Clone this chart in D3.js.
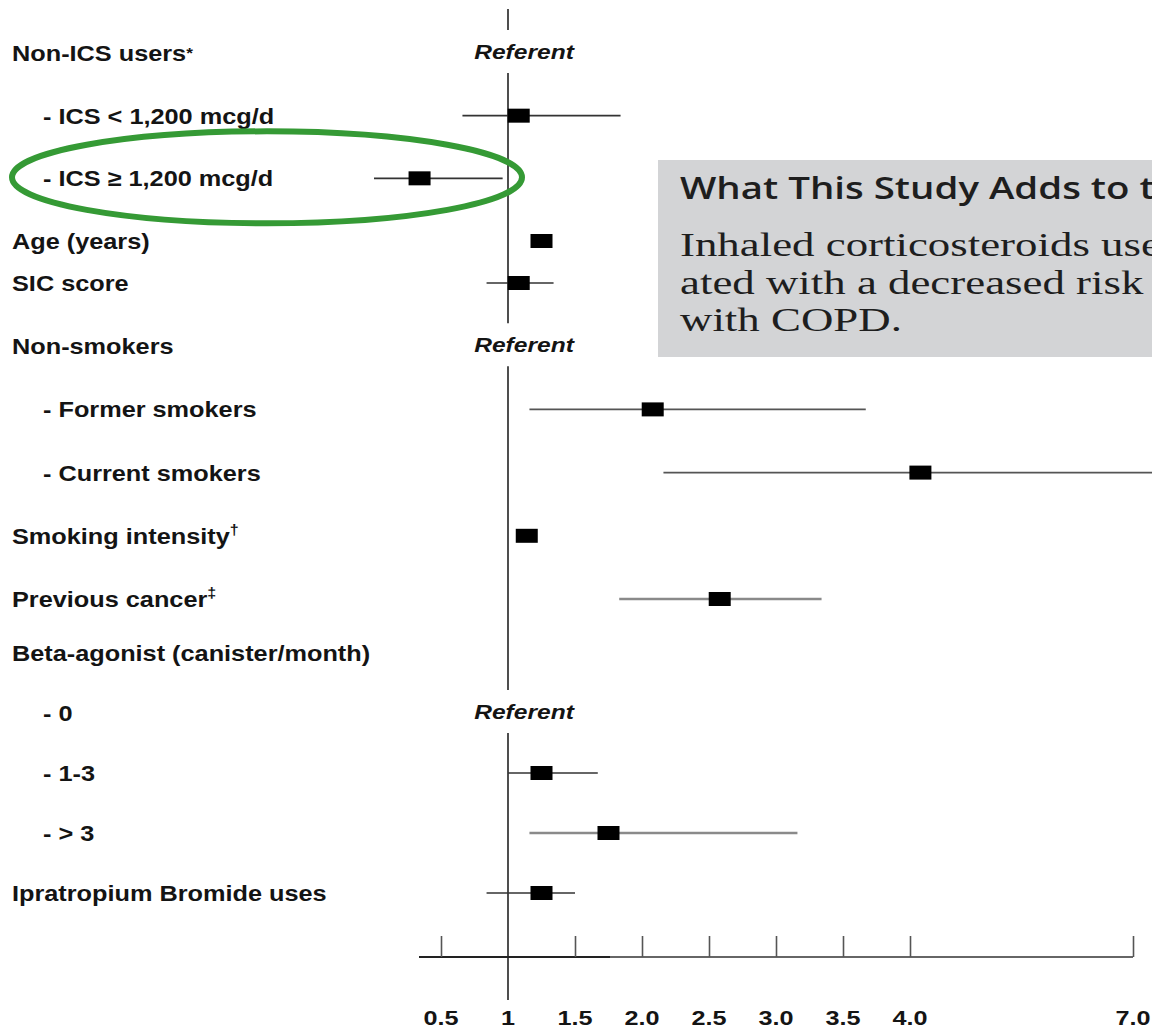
<!DOCTYPE html>
<html>
<head>
<meta charset="utf-8">
<script src="https://cdn.jsdelivr.net/npm/d3@7"></script>
<style>
  html, body { margin: 0; padding: 0; background: #ffffff; }
  svg { display: block; }
</style>
</head>
<body>
<div id="chart"></div>
<script>
// Forest plot: adjusted hazard ratios (with 95% CI) for lung cancer among COPD patients.

const rowLabels = [
  "Non-ICS users*",
  "- ICS < 1,200 mcg/d",
  "- ICS \u2265 1,200 mcg/d",
  "Age (years)",
  "SIC score",
  "Non-smokers",
  "- Former smokers",
  "- Current smokers",
  "Smoking intensity\u2020",
  "Previous cancer\u2021",
  "Beta-agonist (canister/month)",
  "- 0",
  "- 1-3",
  "- > 3",
  "Ipratropium Bromide uses"
];

// Point estimates; null where the row is a header or the referent category
const estimate = [null, 1.08, 0.42, 1.25, 1.08, null, 2.08, 4.14, 1.14, 2.58, null, null, 1.25, 1.75, 1.25];
const ciLower  = [null, 0.66, 0.25, null, 0.84, null, 1.16, 2.16, null, 1.83, null, null, 1.00, 1.16, 0.84];
const ciUpper  = [null, 1.84, 0.96, null, 1.34, null, 3.67, 7.40, null, 3.34, null, null, 1.67, 3.16, 1.50];
const isReferent = [true, false, false, false, false, true, false, false, false, false, false, true, false, false, false];

const tickValues = [0.5, 1, 1.5, 2, 2.5, 3, 3.5, 4, 7];
const tickLabels = ["0.5", "1", "1.5", "2.0", "2.5", "3.0", "3.5", "4.0", "7.0"];

const boxTitle = "What This Study Adds to the Field";
const boxLines = [
  "Inhaled corticosteroids use is associ-",
  "ated with a decreased risk of lung cancer in patients",
  "with COPD."
];

const W = 1152, H = 1031;
const svg = d3.select("#chart").append("svg")
  .attr("width", W).attr("height", H)
  .attr("viewBox", `0 0 ${W} ${H}`);

svg.append("rect").attr("width", W).attr("height", H).attr("fill", "#ffffff");

// Broken hazard-ratio axis: halving steps below 1, linear 1-4, compressed 4-7
const x = d3.scaleLinear()
  .domain([0.25, 0.5, 1, 4, 7])
  .range([374, 441, 508, 910, 1133]);

// Row positions: the Age and SIC rows sit closer together; the beta-agonist block is tighter
const rowIndex = d3.scaleLinear()
  .domain([0, 3, 4, 9, 10, rowLabels.length - 1])
  .range([53, 241, 283, 599, 653, 893]);
const y = lbl => rowIndex(rowLabels.indexOf(lbl));

const labelFont = "'Liberation Sans', Arial, Helvetica, sans-serif";

function stretchedText(g, px, py, anchor, sx) {
  return g.append("text")
    .attr("transform", `translate(${px},${py}) scale(${sx || 1.15},1)`)
    .attr("text-anchor", anchor || "start");
}

// Row labels
const labelG = svg.append("g")
  .attr("font-family", labelFont)
  .attr("font-weight", "bold")
  .attr("font-size", 22)
  .attr("fill", "#141414");

rowLabels.forEach(lbl => {
  const indent = lbl.startsWith("- ") ? 43 : 12;
  const t = stretchedText(labelG, indent, y(lbl) + 8);
  const last = lbl.slice(-1);
  if (last === "\u2020" || last === "\u2021") {
    t.append("tspan").text(lbl.slice(0, -1));
    t.append("tspan").attr("font-size", 14).attr("dy", -9).text(last);
  } else if (last === "*") {
    t.append("tspan").text(lbl.slice(0, -1));
    t.append("tspan").attr("font-size", 15).attr("dy", -3).text(last);
  } else {
    t.text(lbl);
  }
});

// Reference line at HR = 1, broken behind each "Referent" label
const refX = x(1);
const refRows = rowLabels.filter((d, i) => isReferent[i]).map(d => y(d));
let segStart = 9;
const refSegs = [];
refRows.forEach(ry => { refSegs.push([segStart, ry - 23]); segStart = ry + 20; });
refSegs.push([segStart, 1000]);
svg.append("g").selectAll("line").data(refSegs).join("line")
  .attr("x1", refX).attr("x2", refX)
  .attr("y1", d => d[0]).attr("y2", d => d[1])
  .attr("stroke", "#222").attr("stroke-width", 1.6);

// "Referent" labels
const refG = svg.append("g")
  .attr("font-family", labelFont)
  .attr("font-style", "italic")
  .attr("font-weight", "bold")
  .attr("font-size", 21)
  .attr("fill", "#141414");
rowLabels.forEach((lbl, i) => {
  if (isReferent[i]) stretchedText(refG, refX + 16, y(lbl) + 6, "middle", 1.17).text("Referent");
});

// Confidence-interval whiskers
const lightWhiskers = new Set(["Previous cancer\u2021", "- > 3"]);
const midWhiskers = new Set(["- Former smokers", "- Current smokers"]);
const rows = rowLabels.map((lbl, i) => ({
  lbl, est: estimate[i], lo: ciLower[i], hi: ciUpper[i]
}));

svg.append("g").selectAll("line")
  .data(rows.filter(d => d.lo != null && d.hi != null))
  .join("line")
  .attr("x1", d => x(d.lo)).attr("x2", d => x(d.hi))
  .attr("y1", d => y(d.lbl)).attr("y2", d => y(d.lbl))
  .attr("stroke", d => lightWhiskers.has(d.lbl) ? "#8a8a8a" : midWhiskers.has(d.lbl) ? "#555" : "#333")
  .attr("stroke-width", d => lightWhiskers.has(d.lbl) ? 2.4 : 1.6);

// Point-estimate squares
const MW = 22, MH = 14;
svg.append("g").selectAll("rect")
  .data(rows.filter(d => d.est != null))
  .join("rect")
  .attr("x", d => x(d.est) - MW / 2)
  .attr("y", d => y(d.lbl) - MH / 2)
  .attr("width", MW).attr("height", MH)
  .attr("fill", "#000");

// Bottom axis: ticks rise from the baseline, labels sit below
const axisY = 957;
svg.append("line")
  .attr("x1", x(0.5) - 22).attr("x2", 610)
  .attr("y1", axisY).attr("y2", axisY)
  .attr("stroke", "#222").attr("stroke-width", 1.8);
svg.append("line")
  .attr("x1", 610).attr("x2", x(7))
  .attr("y1", axisY).attr("y2", axisY)
  .attr("stroke", "#666").attr("stroke-width", 1.8);

const axisG = svg.append("g")
  .attr("transform", `translate(0,${axisY})`)
  .call(d3.axisTop(x).tickValues(tickValues.filter(v => v !== 1)).tickSize(21).tickFormat(""));
axisG.select(".domain").remove();
axisG.selectAll(".tick line").attr("stroke", "#555").attr("stroke-width", 1.6);

const tickG = svg.append("g")
  .attr("font-family", labelFont)
  .attr("font-weight", "bold")
  .attr("font-size", 21)
  .attr("fill", "#141414");
tickValues.forEach((v, i) => {
  stretchedText(tickG, x(v), 1025, "middle", 1.2).text(tickLabels[i]);
});

// Callout box (runs off the right edge)
const box = { x: 658, y: 160, h: 197 };
svg.append("defs").append("clipPath").attr("id", "boxClip")
  .append("rect").attr("x", box.x).attr("y", box.y).attr("width", W - box.x).attr("height", box.h);
const boxG = svg.append("g").attr("clip-path", "url(#boxClip)");
boxG.append("rect")
  .attr("x", box.x).attr("y", box.y).attr("width", W - box.x).attr("height", box.h)
  .attr("fill", "#d3d4d6");
boxG.append("text")
  .attr("transform", `translate(680,199) scale(1.24,1)`)
  .attr("font-family", "'Open Sans', 'Noto Sans', sans-serif")
  .attr("font-weight", 600)
  .attr("font-size", 31)
  .attr("fill", "#1e1e1e")
  .text(boxTitle);
boxLines.forEach((line, i) => {
  boxG.append("text")
    .attr("transform", `translate(680,${256 + i * 37.5}) scale(1.32,1)`)
    .attr("font-family", "'Liberation Serif', 'Times New Roman', serif")
    .attr("font-size", 34)
    .attr("fill", "#1e1e1e")
    .text(line);
});

// Highlight around the high-dose ICS row
const hy = y("- ICS \u2265 1,200 mcg/d");
svg.append("ellipse")
  .attr("cx", 267).attr("cy", hy - 1)
  .attr("rx", 255).attr("ry", 46)
  .attr("fill", "none")
  .attr("stroke", "#359a35")
  .attr("stroke-width", 6);
</script>
</body>
</html>
